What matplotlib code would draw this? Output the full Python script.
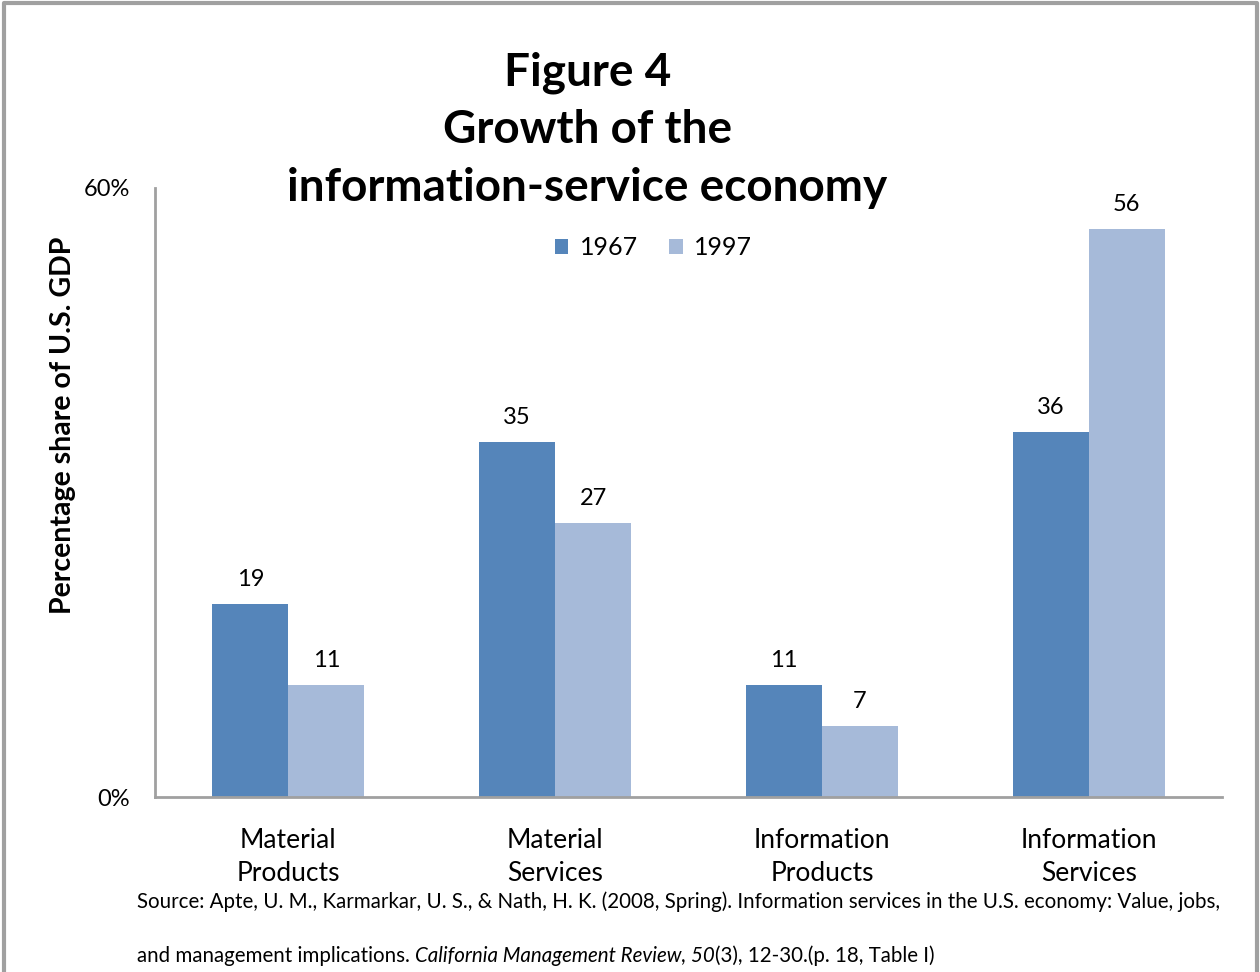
import matplotlib
matplotlib.use("Agg")
import matplotlib.pyplot as plt
from matplotlib.lines import Line2D

categories = ["Material\nProducts", "Material\nServices", "Information\nProducts", "Information\nServices"]
series_names = ["1967", "1997"]
values_1967 = [19, 35, 11, 36]
values_1997 = [11, 27, 7, 56]
colors = ["#5585BA", "#A6BAD9"]

plt.rcParams['font.family'] = ['Lato', 'DejaVu Sans']

fig = plt.figure(figsize=(12.6, 9.72), dpi=100)
# outer frame: left, top, right (no bottom edge visible)
fig.lines.append(Line2D([0.0028, 0.0028, 0.9980, 0.9980], [0.0, 0.9965, 0.9965, 0.0],
                        transform=fig.transFigure, color="#A0A0A0", linewidth=3))

ax = fig.add_axes([0.123, 0.180, 0.847, 0.6266])
x = list(range(len(categories)))
w = 0.285
b1 = ax.bar([i - w / 2 for i in x], values_1967, w, color=colors[0], label=series_names[0])
b2 = ax.bar([i + w / 2 for i in x], values_1997, w, color=colors[1], label=series_names[1])
for bars in (b1, b2):
    ax.bar_label(bars, labels=[str(v) for v in bars.datavalues], padding=10, fontsize=17)

ax.set_xlim(-0.5, 3.5)
ax.set_ylim(0, 60)
ax.set_yticks([0, 60])
ax.set_yticklabels(["0%", "60%"], fontsize=17)
ax.set_xticks(x)
ax.set_xticklabels(categories, fontsize=19, linespacing=1.42)
ax.tick_params(axis='both', length=0)
ax.tick_params(axis='x', pad=22)
ax.tick_params(axis='y', pad=18)
for s in ("top", "right"):
    ax.spines[s].set_visible(False)
for s in ("left", "bottom"):
    ax.spines[s].set_color("#A0A0A0")
    ax.spines[s].set_linewidth(2)
ax.set_ylabel("Percentage share of U.S. GDP", fontsize=20.5, fontweight="bold")
ax.yaxis.set_label_coords(-0.074, 0.61)

leg = ax.legend(loc="upper center", bbox_to_anchor=(0.467, 0.958), ncol=2, frameon=False,
                fontsize=18, handlelength=0.55, handleheight=0.55, handletextpad=0.45,
                columnspacing=1.25)

fig.text(0.466, 0.866, "Figure 4\nGrowth of the\ninformation-service economy", ha="center", va="center",
         fontsize=33, fontweight="bold", linespacing=1.47)

# Source text with italic portion
fs = 14.8
t1 = fig.text(0.109, 0.062, "Source: Apte, U. M., Karmarkar, U. S., & Nath, H. K. (2008, Spring). Information services in the U.S. economy: Value, jobs,",
              fontsize=fs, va="bottom")
p1 = fig.text(0.109, 0.006, "and management implications. ", fontsize=fs, va="bottom")
p2 = ax.annotate("California Management Review, 50", xy=(1, 0), xycoords=p1, fontsize=fs,
                 style="italic", va="bottom", ha="left", annotation_clip=False)
p3 = ax.annotate("(3), 12-30.(p. 18, Table I)", xy=(1, 0), xycoords=p2, fontsize=fs,
                 va="bottom", ha="left", annotation_clip=False)

fig.savefig("out.png", dpi=100)
